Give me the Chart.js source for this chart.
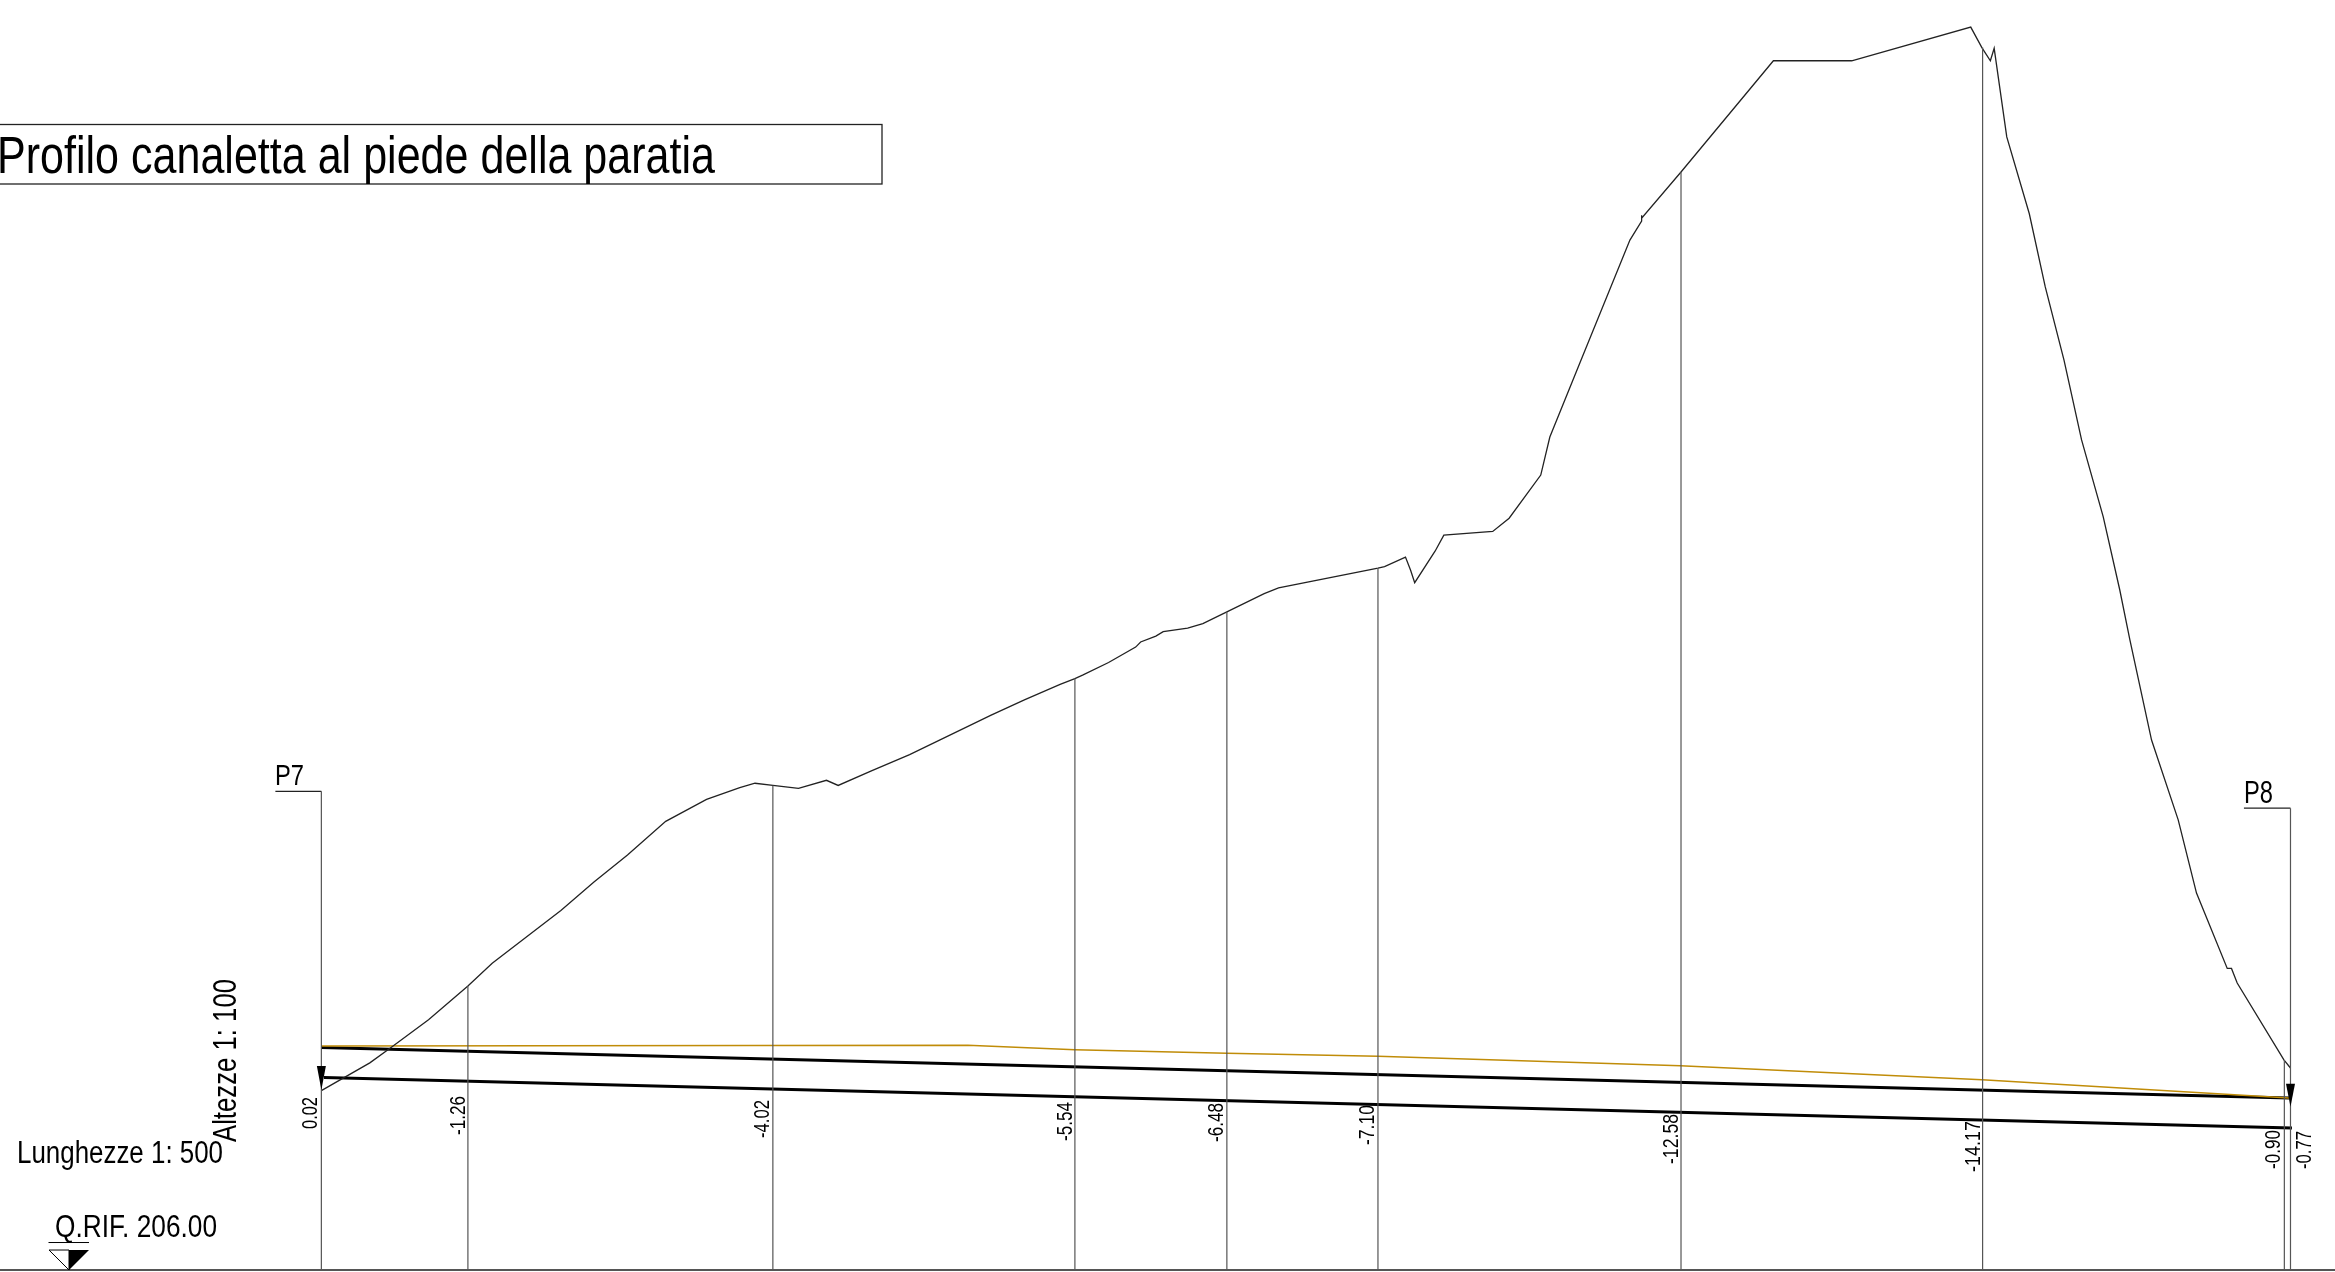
<!DOCTYPE html>
<html lang="it">
<head>
<meta charset="utf-8">
<title>Profilo canaletta al piede della paratia</title>
<script src="https://cdn.jsdelivr.net/npm/chart.js@4/dist/chart.umd.min.js"></script>
<style>
    html, body { margin: 0; padding: 0; background: #fff; overflow: hidden; }
    canvas { display: block; }
</style>
</head>
<body>
<canvas id="profilo" width="2335" height="1272"></canvas>
<script>
// Progressive (m from P7) and elevations (m)
const terrainX = [0.00, 3.31, 4.69, 7.32, 10.01, 11.67, 16.36, 18.62, 20.91, 23.52, 26.31, 28.58, 29.62, 30.84, 32.59, 34.50, 35.30, 37.57, 40.18, 45.75, 48.02, 50.46, 51.47, 52.03, 53.77, 55.62, 55.96, 57.00, 57.50, 59.17, 60.21, 61.85, 64.40, 65.38, 72.17, 72.62, 74.05, 74.40, 74.68, 76.07, 76.67, 80.01, 81.13, 83.29, 83.91, 85.96, 89.38, 90.18, 90.18, 90.18, 92.87, 99.18, 104.53, 112.66, 113.42, 114.00, 114.26, 115.12, 116.66, 117.75, 119.03, 120.23, 121.71, 122.84, 123.53, 125.01, 126.83, 128.08, 130.18, 130.47, 130.86, 134.05, 134.50];
const terrainY = [208.45, 208.83, 209.03, 209.42, 209.88, 210.19, 210.91, 211.30, 211.67, 212.13, 212.43, 212.59, 212.65, 212.62, 212.58, 212.69, 212.62, 212.82, 213.04, 213.58, 213.79, 214.00, 214.08, 214.13, 214.30, 214.51, 214.58, 214.66, 214.72, 214.77, 214.83, 214.99, 215.24, 215.32, 215.59, 215.61, 215.74, 215.56, 215.39, 215.82, 216.04, 216.09, 216.27, 216.86, 217.38, 218.39, 220.07, 220.33, 220.41, 220.37, 221.00, 222.52, 222.52, 222.98, 222.70, 222.52, 222.69, 221.48, 220.43, 219.43, 218.43, 217.34, 216.29, 215.29, 214.61, 213.24, 212.15, 211.15, 210.12, 210.12, 209.92, 208.87, 208.76];

const orangeX = [0.00, 44.16, 51.47, 61.85, 72.17, 92.83, 113.43, 134.40];
const orangeY = [209.06, 209.07, 209.01, 208.96, 208.92, 208.79, 208.60, 208.35];

const upperX = [0.00, 134.40];
const upperY = [209.04, 208.35];
const lowerX = [0.18, 134.60];
const lowerY = [208.63, 207.94];

// Vertical sections with their differences
const stemX = [0.00, 10.01, 30.84, 51.47, 61.85, 72.17, 92.87, 113.47, 134.08, 134.50];
const stemTop = [212.54, 209.88, 212.62, 214.08, 214.99, 215.59, 221.00, 222.70, 208.87, 212.31];
const stemLabels = ['0.02', '-1.26', '-4.02', '-5.54', '-6.48', '-7.10', '-12.58', '-14.17', '-0.90', '-0.77'];

const baseQuota = 206.00;
const flagP7X = [-3.14, 0.00];
const flagP7Y = [212.54, 212.54];
const flagP8X = [131.32, 134.50];
const flagP8Y = [212.31, 212.31];

const toPoints = (xs, ys) => xs.map((x, i) => ({ x: x, y: ys[i] }));

// All stems in one dataset, broken by null points
const stemPoints = [];
stemX.forEach((x, i) => {
    stemPoints.push({ x: x, y: stemTop[i] }, { x: x, y: baseQuota }, { x: x, y: null });
});

const lineSet = (data, color, width) => ({
    data: data,
    borderColor: color,
    borderWidth: width,
    showLine: true,
    pointRadius: 0,
    tension: 0,
    spanGaps: false
});

const FONT = '"Liberation Sans Narrow", "Liberation Sans", sans-serif';

// Layout of the rotated labels: baseline offset from stem, top y and length in px
const labelOffset = [-4, -3, -4, -3, -4, -4, -3, -3, -4, 21];
const labelTop = [1097, 1096, 1100, 1102, 1103, 1105, 1114, 1121, 1130, 1131];
const labelLength = [32, 39, 38, 39, 39, 40, 50, 51, 39, 38];

function rotatedText(ctx, text, x, y, size, maxWidth) {
    ctx.save();
    ctx.translate(x, y);
    ctx.rotate(-Math.PI / 2);
    ctx.font = size + 'px ' + FONT;
    ctx.textAlign = 'right';
    ctx.textBaseline = 'alphabetic';
    ctx.fillText(text, 0, 0, maxWidth);
    ctx.restore();
}

function plainText(ctx, text, x, y, size, maxWidth) {
    ctx.font = size + 'px ' + FONT;
    ctx.textAlign = 'left';
    ctx.textBaseline = 'alphabetic';
    ctx.fillText(text, x, y, maxWidth);
}

function arrowHead(ctx, x, tipY, halfWidth, length) {
    ctx.beginPath();
    ctx.moveTo(x - halfWidth, tipY - length);
    ctx.lineTo(x + halfWidth, tipY - length);
    ctx.lineTo(x, tipY);
    ctx.closePath();
    ctx.fill();
}

// Title box, notes, arrows and the value labels
const drawingNotes = {
    id: 'drawingNotes',
    afterDatasetsDraw(chart) {
        const ctx = chart.ctx;
        const xs = chart.scales.x;
        const ys = chart.scales.y;
        ctx.save();
        ctx.fillStyle = '#000';
        ctx.strokeStyle = '#222';

        ctx.lineWidth = 1.3;
        ctx.strokeRect(-5, 124.5, 887, 59.5);
        plainText(ctx, 'Profilo canaletta al piede della paratia', -3, 173, 51, 718);

        plainText(ctx, 'P7', 275, 785, 29, 29);
        plainText(ctx, 'P8', 2244, 803, 31, 29);
        plainText(ctx, 'Lunghezze 1: 500', 17, 1163, 31, 206);
        plainText(ctx, 'Q.RIF. 206.00', 55, 1237, 31, 162);
        rotatedText(ctx, 'Altezze 1: 100', 236, 979, 33, 163);

        stemLabels.forEach((label, i) => {
            rotatedText(ctx, label, xs.getPixelForValue(stemX[i]) + labelOffset[i], labelTop[i], 22, labelLength[i]);
        });

        arrowHead(ctx, xs.getPixelForValue(0), ys.getPixelForValue(208.46), 4.5, 24);
        arrowHead(ctx, xs.getPixelForValue(134.5), ys.getPixelForValue(208.23), 4.5, 23);

        // Reference level symbol
        const baseY = ys.getPixelForValue(baseQuota);
        ctx.strokeStyle = '#000';
        ctx.lineWidth = 1;
        ctx.beginPath();
        ctx.moveTo(48.5, baseY - 27.5);
        ctx.lineTo(89, baseY - 27.5);
        ctx.moveTo(49, baseY - 20);
        ctx.lineTo(69, baseY - 20);
        ctx.lineTo(69, baseY);
        ctx.closePath();
        ctx.stroke();
        ctx.beginPath();
        ctx.moveTo(69, baseY - 20);
        ctx.lineTo(89, baseY - 20);
        ctx.lineTo(69, baseY);
        ctx.closePath();
        ctx.fill();
        ctx.restore();
    }
};

new Chart(document.getElementById('profilo'), {
    type: 'scatter',
    data: {
        datasets: [
            lineSet(stemPoints, '#555', 1.2),
            lineSet(toPoints(flagP7X, flagP7Y), '#222', 1.2),
            lineSet(toPoints(flagP8X, flagP8Y), '#222', 1.2),
            lineSet(toPoints([-22, 138], [baseQuota, baseQuota]), '#555', 2),
            lineSet(toPoints(terrainX, terrainY), '#222', 1.3),
            lineSet(toPoints(orangeX, orangeY), '#c08c08', 1.5),
            lineSet(toPoints(upperX, upperY), '#000', 3),
            lineSet(toPoints(lowerX, lowerY), '#000', 3)
        ]
    },
    options: {
        responsive: false,
        animation: false,
        devicePixelRatio: 1,
        layout: { padding: 0 },
        scales: {
            x: { type: 'linear', min: -21.95, max: 137.54, display: false },
            y: { type: 'linear', min: 205.973, max: 223.35, display: false }
        },
        plugins: {
            legend: { display: false },
            tooltip: { enabled: false }
        }
    },
    plugins: [drawingNotes]
});
</script>
</body>
</html>
